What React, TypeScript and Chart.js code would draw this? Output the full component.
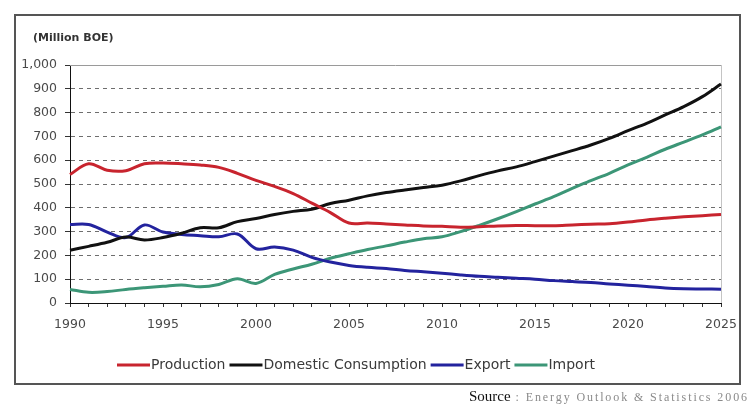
import React, { useEffect, useRef } from 'react';
import { Chart, registerables } from 'chart.js';

Chart.register(...registerables);

// Years on the horizontal axis
const years = [
  '1990', '1991', '1992', '1993', '1994', '1995', '1996', '1997', '1998', '1999',
  '2000', '2001', '2002', '2003', '2004', '2005', '2006', '2007', '2008', '2009',
  '2010', '2011', '2012', '2013', '2014', '2015', '2016', '2017', '2018', '2019',
  '2020', '2021', '2022', '2023', '2024', '2025',
];

// Million BOE per year
const production = [
  540, 585, 558, 556, 585, 588, 585, 580, 570, 545,
  515, 490, 460, 420, 380, 336, 336, 332, 328, 324,
  322, 318, 320, 324, 326, 325, 325, 328, 331, 333,
  340, 349, 356, 362, 367, 372,
];
const domesticConsumption = [
  222, 238, 255, 277, 265, 275, 293, 316, 316, 342,
  355, 372, 385, 394, 418, 432, 450, 464, 475, 485,
  495, 513, 535, 555, 572, 594, 617, 640, 664, 692,
  724, 755, 790, 825, 867, 920,
];
const exportVol = [
  330, 330, 298, 275, 328, 298, 288, 283, 278, 290,
  228, 235, 222, 192, 172, 158, 150, 145, 137, 131,
  125, 118, 112, 108, 104, 100, 94, 90, 86, 80,
  75, 69, 63, 60, 59, 58,
];
const importVol = [
  57, 45, 48, 57, 64, 70, 76, 68, 78, 102,
  82, 120, 143, 163, 188, 207, 225, 240, 256, 270,
  278, 300, 326, 354, 384, 416, 447, 482, 514, 545,
  580, 612, 646, 676, 706, 740,
];

const seriesNames = ['Production', 'Domestic Consumption', 'Export', 'Import'];
const seriesColors = ['#c8242e', '#111111', '#23239e', '#3c9677'];
const unitLabel = '(Million BOE)';
const yMin = 0;
const yMax = 1000;
const yStep = 100;
const labelEvery = 5;

const FONT = '"DejaVu Sans", "Liberation Sans", Arial, sans-serif';

// Unit caption above the value axis
const unitTitlePlugin = {
  id: 'unitTitle',
  afterDraw(chart: any) {
    const { ctx } = chart;
    ctx.save();
    ctx.font = `bold 11px ${FONT}`;
    ctx.fillStyle = '#333333';
    ctx.textBaseline = 'middle';
    ctx.textAlign = 'left';
    ctx.fillText(unitLabel, 33, 38);
    ctx.restore();
  },
};

// Solid top and right edges of the plotting area
const plotEdgePlugin = {
  id: 'plotEdge',
  beforeDatasetsDraw(chart: any) {
    const { ctx, chartArea } = chart;
    const yTop = chart.scales.y.getPixelForValue(yMax);
    ctx.save();
    ctx.lineWidth = 1;
    ctx.strokeStyle = '#9a9a9a';
    ctx.beginPath();
    ctx.moveTo(chartArea.left, yTop + 0.5);
    ctx.lineTo(chartArea.right, yTop + 0.5);
    ctx.stroke();
    ctx.strokeStyle = '#c4c4c4';
    ctx.beginPath();
    ctx.moveTo(chartArea.right + 0.5, chartArea.top);
    ctx.lineTo(chartArea.right + 0.5, chartArea.bottom);
    ctx.stroke();
    ctx.restore();
  },
};

// Compact legend row: a line sample followed directly by the series name
const lineLegendPlugin = {
  id: 'lineLegend',
  afterDraw(chart: any) {
    const { ctx } = chart;
    const startX = 117;
    const rowY = 365;
    const sampleLen = 33;
    ctx.save();
    ctx.font = `14px ${FONT}`;
    ctx.textBaseline = 'middle';
    ctx.textAlign = 'left';
    let x = startX;
    chart.data.datasets.forEach((ds: any) => {
      ctx.strokeStyle = ds.borderColor;
      ctx.lineWidth = 3;
      ctx.beginPath();
      ctx.moveTo(x, rowY);
      ctx.lineTo(x + sampleLen, rowY);
      ctx.stroke();
      ctx.fillStyle = '#3a3a3a';
      const tx = x + sampleLen + 1;
      ctx.fillText(ds.label, tx, rowY);
      x = tx + ctx.measureText(ds.label).width + 4;
    });
    ctx.restore();
  },
};

export default function App() {
  const canvasRef = useRef<HTMLCanvasElement | null>(null);

  useEffect(() => {
    const canvas = canvasRef.current;
    if (!canvas) return;
    const values = [production, domesticConsumption, exportVol, importVol];
    const chart = new Chart(canvas, {
      type: 'line',
      data: {
        labels: years,
        datasets: values.map((data, i) => ({
          label: seriesNames[i],
          data,
          borderColor: seriesColors[i],
          backgroundColor: seriesColors[i],
          borderWidth: 3,
          pointRadius: 0,
          pointHoverRadius: 0,
          tension: 0.35,
          fill: false,
        })),
      },
      options: {
        responsive: false,
        animation: false,
        devicePixelRatio: 1,
        layout: { padding: { left: 0, top: 65, right: 26, bottom: 56 } },
        plugins: {
          tooltip: { enabled: false },
          title: { display: false },
          legend: { display: false },
        },
        scales: {
          x: {
            type: 'category',
            offset: false,
            afterFit(scale: any) {
              scale.height = 49;
            },
            grid: {
              display: true,
              drawOnChartArea: false,
              drawTicks: true,
              tickLength: 4,
              tickColor: '#333333',
            },
            border: { display: true, color: '#111111', width: 1 },
            ticks: {
              autoSkip: false,
              maxRotation: 0,
              minRotation: 0,
              padding: 10,
              color: '#4a4a4a',
              font: { family: FONT, size: 12.5 },
              callback(this: any, value: any) {
                const lbl = this.getLabelForValue(value);
                return Number(lbl) % labelEvery === 0 ? lbl : '';
              },
            },
          },
          y: {
            min: yMin,
            max: yMax,
            afterFit(scale: any) {
              scale.width = 70;
            },
            grid: {
              display: true,
              drawTicks: true,
              tickLength: 5,
              tickColor: '#333333',
              lineWidth: 1,
              color: (ctx: any) => {
                const v = ctx.tick ? ctx.tick.value : null;
                return v === yMin || v === yMax ? 'rgba(0,0,0,0)' : '#6e6e6e';
              },
            },
            border: { display: true, color: '#111111', width: 1, dash: [4, 4] },
            ticks: {
              stepSize: yStep,
              padding: 8,
              color: '#4a4a4a',
              font: { family: FONT, size: 12.5 },
              callback: (value: any) => Number(value).toLocaleString('en-US'),
            },
          },
        },
      },
      plugins: [unitTitlePlugin, plotEdgePlugin, lineLegendPlugin],
    });
    return () => chart.destroy();
  }, []);

  return (
    <div
      style={{
        position: 'absolute',
        left: 0,
        top: 0,
        width: 747,
        height: 408,
        background: '#ffffff',
        overflow: 'hidden',
      }}
    >
      <div
        style={{
          position: 'absolute',
          left: 14,
          top: 14,
          width: 727,
          height: 371,
          boxSizing: 'border-box',
          border: '2px solid #555555',
        }}
      />
      <canvas
        ref={canvasRef}
        width={747}
        height={408}
        style={{ position: 'absolute', left: 0, top: 0, display: 'block' }}
      />
      <div
        style={{
          position: 'absolute',
          left: 469,
          top: 387,
          whiteSpace: 'nowrap',
          fontFamily: '"Liberation Serif", "DejaVu Serif", serif',
          fontSize: 15,
          lineHeight: '19px',
        }}
      >
        <span style={{ color: '#111111' }}>Source</span>
        <span style={{ color: '#8a8a8a', fontSize: 12, letterSpacing: 1.9 }}>
          {' : Energy Outlook & Statistics 2006'}
        </span>
      </div>
    </div>
  );
}
